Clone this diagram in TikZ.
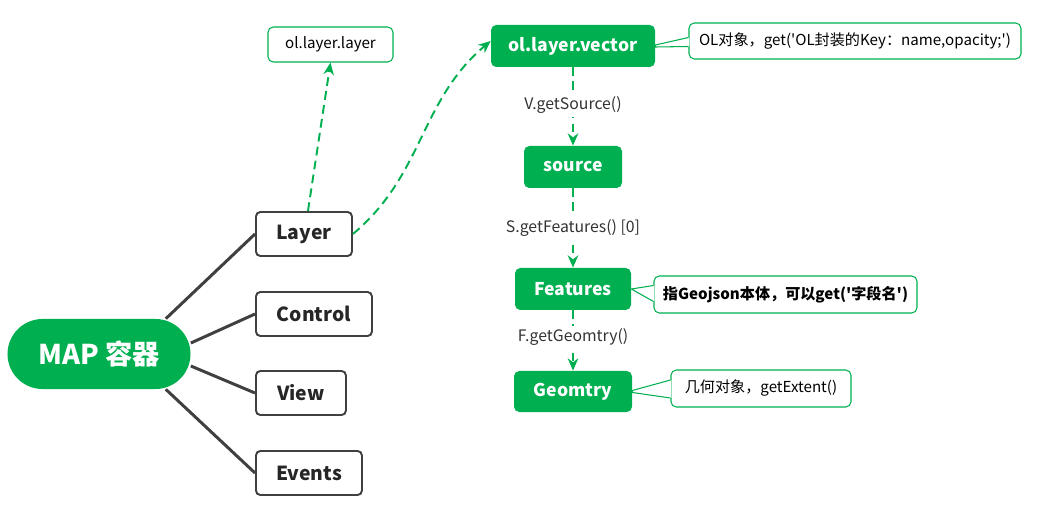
\documentclass[tikz,border=0pt]{standalone}
\usepackage{fontspec}
\setmainfont{Noto Sans CJK SC}
\usetikzlibrary{arrows.meta}
\definecolor{olgreen}{RGB}{0,176,80}
\definecolor{linegray}{RGB}{64,64,64}

\begin{document}
\begin{tikzpicture}[>={Stealth[length=7pt,width=6pt]},
  mapnode/.style={fill=olgreen, text=white, rounded corners=0.7cm, minimum width=3.66cm, minimum height=1.4cm, font=\fontsize{15.5}{18}\selectfont\bfseries},
  partbox/.style={draw=linegray, line width=1.1pt, rounded corners=2.5pt, fill=white, minimum height=0.88cm, anchor=west, font=\fontsize{11}{13}\selectfont\bfseries, text=black!85},
  olbox/.style={fill=olgreen, text=white, rounded corners=3pt, minimum height=0.84cm, font=\fontsize{10}{12}\selectfont\bfseries},
  notebox/.style={draw=olgreen, line width=0.6pt, rounded corners=3pt, fill=white, minimum height=0.72cm, font=\fontsize{8.6}{11}\selectfont},
  branch/.style={draw=linegray, line width=1.7pt},
  calllink/.style={draw=olgreen, line width=1.1pt, dash pattern=on 5pt off 3pt, ->},
  callname/.style={fill=white, inner sep=2pt, font=\fontsize{9}{11}\selectfont, text=black!80}]
  \useasboundingbox (0,0) rectangle (20.74,-10.48);

  % map and its parts
  \node[mapnode] (map) at (1.98,-7.08) {MAP 容器};
  \node[partbox, minimum width=1.92cm] (layer)   at (5.10,-4.68) {Layer};
  \node[partbox, minimum width=2.32cm] (control) at (5.10,-6.28) {Control};
  \node[partbox, minimum width=1.80cm] (view)    at (5.10,-7.86) {View};
  \node[partbox, minimum width=2.12cm] (events)  at (5.10,-9.46) {Events};

  \draw[branch] ([xshift=-0.5cm]map.north east) -- (layer.west);
  \draw[branch] ([yshift=0.22cm]map.east) -- (control.west);
  \draw[branch] ([yshift=-0.24cm]map.east) -- (view.west);
  \draw[branch] ([xshift=-0.5cm]map.south east) -- (events.west);

  % openlayers chain
  \node[notebox, minimum width=2.5cm, minimum height=0.7cm] (ollayer) at (6.61,-0.89) {ol.layer.layer};
  \node[olbox, minimum width=3.28cm] (vector)   at (11.46,-0.92) {ol.layer.vector};
  \node[olbox, minimum width=1.96cm] (source)   at (11.46,-3.34) {source};
  \node[olbox, minimum width=2.32cm] (features) at (11.46,-5.78) {Features};
  \node[olbox, minimum width=2.36cm, minimum height=0.82cm] (geom) at (11.46,-7.83) {Geomtry};

  \draw[calllink] ([xshift=0.08cm]layer.north) -- (ollayer.south);
  \draw[calllink] (layer.east) to[out=40, in=220] ([yshift=0.1cm]vector.west);

  \draw[calllink] (vector) -- node[callname, pos=0.48] (getsrc) {V.getSource()} (source);
  \draw[calllink] (source) -- node[callname, pos=0.5] (getfeat) {S.getFeatures() [0]} (features);
  \draw[calllink] (features) -- node[callname, pos=0.45] (getgeom) {F.getGeomtry()} (geom);

  % Annotations
  \node[notebox, minimum width=6.64cm] (note1) at (17.10,-0.82) {OL对象，get(\textquotesingle OL封装的Key：name,opacity;\textquotesingle)};
  \node[notebox, minimum width=5.26cm, minimum height=0.74cm, font=\fontsize{8.6}{11}\selectfont\bfseries] (note2) at (15.71,-5.89) {指Geojson本体，可以get(\textquotesingle 字段名\textquotesingle)};
  \node[notebox, minimum width=3.60cm, minimum height=0.74cm] (note3) at (15.22,-7.77) {几何对象，getExtent()};

  \fill[white] ([xshift=0.02cm,yshift=0.07cm]note1.west) -- (vector.east) -- ([xshift=0.02cm,yshift=-0.11cm]note1.west) -- cycle;
  \draw[olgreen, line width=0.6pt] ([yshift=0.07cm]note1.west) -- ([yshift=0.02cm]vector.east) -- ([yshift=-0.02cm]vector.east) -- ([yshift=-0.11cm]note1.west);
  \fill[white] ([xshift=0.02cm,yshift=0.18cm]note2.west) -- (features.east) -- ([xshift=0.02cm,yshift=-0.14cm]note2.west) -- cycle;
  \draw[olgreen, line width=0.6pt] ([yshift=0.18cm]note2.west) -- (features.east) -- ([yshift=-0.14cm]note2.west);
  \fill[white] ([xshift=0.02cm,yshift=0.17cm]note3.west) -- (geom.east) -- ([xshift=0.02cm,yshift=-0.19cm]note3.west) -- cycle;
  \draw[olgreen, line width=0.6pt] ([yshift=0.17cm]note3.west) -- ([yshift=0.02cm]geom.east) -- ([yshift=-0.02cm]geom.east) -- ([yshift=-0.19cm]note3.west);
\end{tikzpicture}
\end{document}
